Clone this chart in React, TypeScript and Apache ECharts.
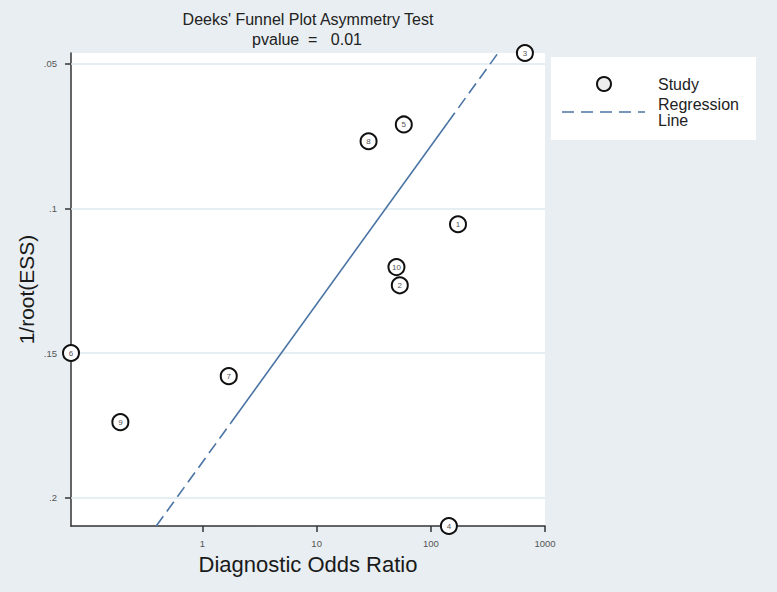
import React, { useEffect, useRef } from "react";
import * as echarts from "echarts";

// Study labels and values
const studyIds = ["1", "2", "3", "4", "5", "6", "7", "8", "9", "10"];
const diagnosticOddsRatio = [173, 53.5, 667, 144, 58, 0.0706, 1.7, 28.5, 0.191, 50];
const invRootEss = [0.1055, 0.1266, 0.0463, 0.2098, 0.071, 0.15, 0.158, 0.0768, 0.1739, 0.1203];

// Regression line points (DOR, 1/root(ESS)): bottom dashed, solid middle, top dashed
const regDor = [0.394, 1.77, 140.9, 388];
const regY = [0.2098, 0.1742, 0.0703, 0.0463];

// Axis settings
const xTickExponents = [0, 1, 2, 3];
const yTicks = [0.05, 0.1, 0.15, 0.2];
const xMinDor = 0.0706;
const xMaxDor = 1000;
const yMin = 0.0463;
const yMax = 0.2098;

const FONT = "'Liberation Sans', Arial, sans-serif";
const LINE_COLOR = "#4a74a4";

export default function App() {
  const ref = useRef<HTMLDivElement>(null);

  useEffect(() => {
    if (!ref.current) return;
    const chart = echarts.init(ref.current, undefined, { renderer: "svg" });

    const scatterData = studyIds.map((id, i) => ({
      value: [Math.log10(diagnosticOddsRatio[i]), invRootEss[i]],
      name: id,
    }));
    const regPts = regDor.map((d, i) => [Math.log10(d), regY[i]]);

    const option: any = {
      animation: false,
      backgroundColor: "#e8eef1",
      textStyle: { fontFamily: FONT },
      graphic: [
        {
          type: "text",
          x: 308,
          y: 11,
          style: {
            text: "Deeks' Funnel Plot Asymmetry Test",
            textAlign: "center",
            font: `16px ${FONT}`,
            fill: "#222",
          },
        },
        {
          type: "text",
          x: 307,
          y: 31,
          style: {
            text: "pvalue  =   0.01",
            textAlign: "center",
            font: `16px ${FONT}`,
            fill: "#222",
          },
        },
        {
          type: "rect",
          shape: { x: 551, y: 57, width: 205, height: 83 },
          style: { fill: "#ffffff" },
          z: -1,
        },
        {
          type: "line",
          shape: { x1: 562, y1: 112, x2: 645, y2: 112 },
          style: { stroke: LINE_COLOR, lineWidth: 1.5, lineDash: [12, 7] },
        },
        {
          type: "text",
          x: 658,
          y: 96,
          style: {
            text: "Regression\nLine",
            font: `16px ${FONT}`,
            fill: "#222",
            lineHeight: 16,
          },
        },
      ],
      grid: {
        left: 71,
        right: 232,
        top: 53,
        bottom: 66,
        show: true,
        backgroundColor: "#ffffff",
        borderWidth: 0,
      },
      legend: {
        data: ["Study"],
        left: 591,
        top: 71,
        itemWidth: 14,
        itemHeight: 14,
        textStyle: { fontSize: 16, color: "#222", fontFamily: FONT, padding: [0, 0, 0, 42] },
        itemStyle: { color: "#eeeeee", borderColor: "#111", borderWidth: 2 },
      },
      xAxis: {
        type: "value",
        min: Math.log10(xMinDor),
        max: Math.log10(xMaxDor),
        name: "Diagnostic Odds Ratio",
        nameLocation: "middle",
        nameGap: 27,
        nameMoveOverlap: false,
        nameTextStyle: { fontSize: 22, color: "#1a1a1a", fontFamily: FONT },
        axisLine: { show: true, onZero: false, lineStyle: { color: "#333", width: 1.5 } },
        axisTick: { show: true, length: 6, customValues: xTickExponents, lineStyle: { color: "#333", width: 1.5 } },
        axisLabel: {
          customValues: xTickExponents,
          formatter: (v: number) => String(Math.round(Math.pow(10, v))),
          fontSize: 9.5,
          color: "#555",
          margin: 12,
        },
        splitLine: { show: false },
      },
      yAxis: {
        type: "value",
        inverse: true,
        min: yMin,
        max: yMax,
        name: "1/root(ESS)",
        nameLocation: "middle",
        nameGap: 34,
        nameMoveOverlap: false,
        nameTextStyle: { fontSize: 21, color: "#1a1a1a", fontFamily: FONT },
        axisLine: { show: true, onZero: false, lineStyle: { color: "#333", width: 1.5 } },
        axisTick: { show: true, length: 6, customValues: yTicks, lineStyle: { color: "#333", width: 1.5 } },
        axisLabel: {
          customValues: yTicks,
          formatter: (v: number) => String(v).replace(/^0/, ""),
          fontSize: 9.5,
          color: "#555",
          margin: 14,
        },
        splitLine: { show: false },
      },
      series: [
        {
          name: "Regression Line",
          type: "line",
          symbol: "none",
          z: 2,
          data: [regPts[0], regPts[1]],
          lineStyle: { color: LINE_COLOR, width: 1.6, type: [12, 6] },
          markLine: {
            silent: true,
            symbol: ["none", "none"],
            label: { show: false },
            lineStyle: { color: "#dce8ef", width: 1.5, type: "solid" },
            data: yTicks.map((v) => ({ yAxis: v })),
            z: 1,
          },
        },
        {
          name: "reg-solid",
          type: "line",
          symbol: "none",
          z: 2,
          data: [regPts[1], regPts[2]],
          lineStyle: { color: LINE_COLOR, width: 1.6, type: "solid" },
        },
        {
          name: "Regression Line",
          type: "line",
          symbol: "none",
          z: 2,
          data: [regPts[2], regPts[3]],
          lineStyle: { color: LINE_COLOR, width: 1.6, type: [12, 6] },
        },
        {
          name: "Study",
          type: "scatter",
          z: 3,
          symbol: "circle",
          symbolSize: 16,
          data: scatterData,
          itemStyle: { color: "#ffffff", borderColor: "#111", borderWidth: 2, opacity: 1 },
          label: {
            show: true,
            position: "inside",
            formatter: (p: any) => p.name,
            fontSize: 8,
            color: "#555",
            fontFamily: FONT,
          },
        },
      ],
    };

    chart.setOption(option);
    return () => chart.dispose();
  }, []);

  return (
    <div
      ref={ref}
      style={{ position: "fixed", left: 0, top: 0, width: 777, height: 592 }}
    />
  );
}
